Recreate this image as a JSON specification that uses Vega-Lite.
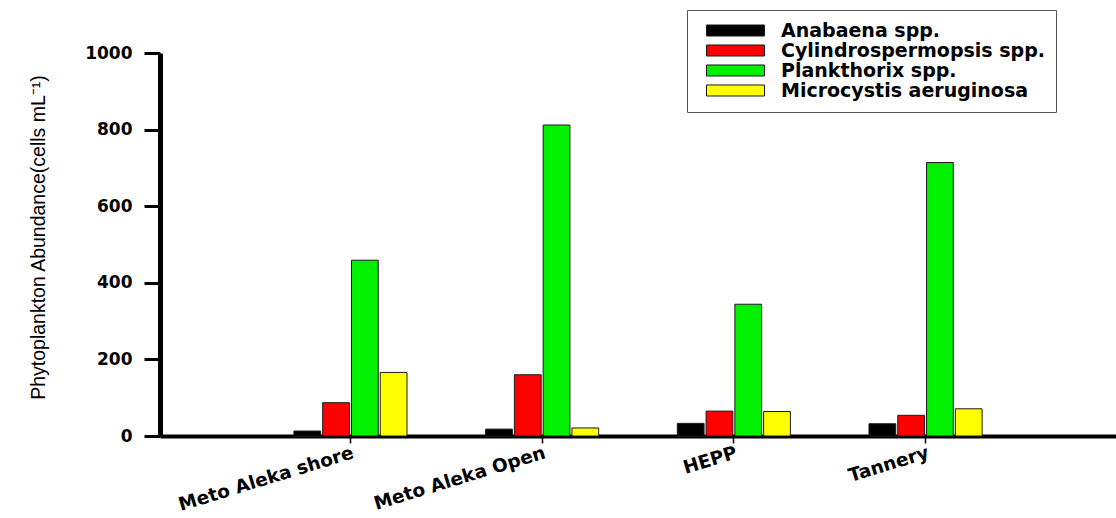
{
  "$schema": "https://vega.github.io/schema/vega-lite/v6.json",
  "autosize": "none",
  "width": 956,
  "height": 383,
  "padding": {"left": 160, "top": 53, "right": 0, "bottom": 82},
  "background": "white",
  "data": {
    "values": [
      {"site": "Meto Aleka shore", "species": "Anabaena spp.", "abundance": 13},
      {"site": "Meto Aleka shore", "species": "Cylindrospermopsis spp.", "abundance": 87},
      {"site": "Meto Aleka shore", "species": "Plankthorix spp.", "abundance": 459},
      {"site": "Meto Aleka shore", "species": "Microcystis aeruginosa", "abundance": 166},
      {"site": "Meto Aleka Open", "species": "Anabaena spp.", "abundance": 18},
      {"site": "Meto Aleka Open", "species": "Cylindrospermopsis spp.", "abundance": 160},
      {"site": "Meto Aleka Open", "species": "Plankthorix spp.", "abundance": 812},
      {"site": "Meto Aleka Open", "species": "Microcystis aeruginosa", "abundance": 21},
      {"site": "HEPP", "species": "Anabaena spp.", "abundance": 33},
      {"site": "HEPP", "species": "Cylindrospermopsis spp.", "abundance": 65},
      {"site": "HEPP", "species": "Plankthorix spp.", "abundance": 344},
      {"site": "HEPP", "species": "Microcystis aeruginosa", "abundance": 64},
      {"site": "Tannery", "species": "Anabaena spp.", "abundance": 32},
      {"site": "Tannery", "species": "Cylindrospermopsis spp.", "abundance": 54},
      {"site": "Tannery", "species": "Plankthorix spp.", "abundance": 714},
      {"site": "Tannery", "species": "Microcystis aeruginosa", "abundance": 71}
    ]
  },
  "mark": {"type": "bar", "stroke": "#1a1a1a", "strokeWidth": 1},
  "encoding": {
    "x": {
      "field": "site",
      "type": "nominal",
      "sort": ["Meto Aleka shore", "Meto Aleka Open", "HEPP", "Tannery"],
      "scale": {"paddingInner": 0.41, "paddingOuter": 0.6985, "align": 0.5, "round": false},
      "axis": {
        "title": null,
        "domain": true,
        "domainColor": "black",
        "domainWidth": 4,
        "ticks": true,
        "tickColor": "black",
        "tickSize": 7,
        "tickWidth": 1.5,
        "labelAngle": -17,
        "labelAlign": "right",
        "labelBaseline": "top",
        "labelPadding": 0,
        "labelFont": "DejaVu Sans",
        "labelFontWeight": "bold",
        "labelFontSize": 18.5,
        "labelColor": "black",
        "labelLimit": 400,
        "grid": false
      }
    },
    "xOffset": {
      "field": "species",
      "type": "nominal",
      "sort": ["Anabaena spp.", "Cylindrospermopsis spp.", "Plankthorix spp.", "Microcystis aeruginosa"],
      "scale": {"paddingInner": 0.07, "paddingOuter": 0, "round": false}
    },
    "y": {
      "field": "abundance",
      "type": "quantitative",
      "scale": {"domain": [0, 1000], "nice": false},
      "axis": {
        "title": "Phytoplankton Abundance(cells mL⁻¹)",
        "titleFont": "Liberation Sans",
        "titleFontWeight": "normal",
        "titleFontSize": 19.5,
        "titleColor": "black",
        "titlePadding": 36,
        "titleY": 184,
        "values": [0, 200, 400, 600, 800, 1000],
        "format": "d",
        "domain": true,
        "domainColor": "black",
        "domainWidth": 5,
        "ticks": true,
        "tickColor": "black",
        "tickSize": 16,
        "tickWidth": 3,
        "labelPadding": 12,
        "labelFont": "DejaVu Sans",
        "labelFontWeight": "bold",
        "labelFontSize": 17,
        "labelColor": "black",
        "grid": false
      }
    },
    "color": {
      "field": "species",
      "type": "nominal",
      "sort": ["Anabaena spp.", "Cylindrospermopsis spp.", "Plankthorix spp.", "Microcystis aeruginosa"],
      "scale": {
        "domain": ["Anabaena spp.", "Cylindrospermopsis spp.", "Plankthorix spp.", "Microcystis aeruginosa"],
        "range": ["#000000", "#ff0000", "#00f000", "#ffff00"]
      },
      "legend": {
        "title": null,
        "orient": "none",
        "legendX": 527,
        "legendY": -43,
        "strokeColor": "#555555",
        "fillColor": "white",
        "padding": 11,
        "symbolOffset": 8,
        "symbolType": "M-1,-0.19H1V0.19H-1Z",
        "symbolSize": 3364,
        "symbolStrokeColor": "#1a1a1a",
        "symbolStrokeWidth": 1,
        "symbolOpacity": 1,
        "clipHeight": 19,
        "rowPadding": 0,
        "labelOffset": 16,
        "labelFont": "DejaVu Sans",
        "labelFontWeight": "bold",
        "labelFontSize": 19,
        "labelColor": "black",
        "labelLimit": 400
      }
    }
  },
  "config": {
    "view": {"stroke": null}
  }
}
